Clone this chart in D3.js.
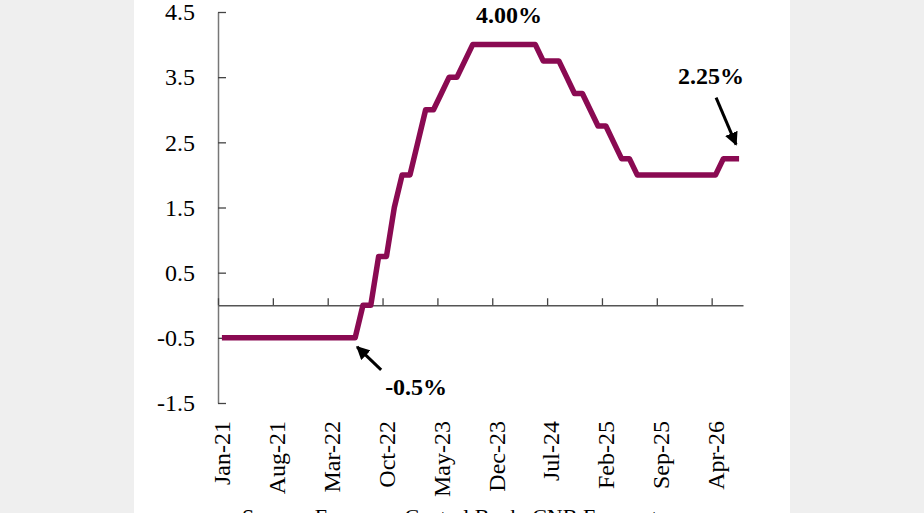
<!DOCTYPE html>
<html>
<head>
<meta charset="utf-8">
<script src="https://cdn.jsdelivr.net/npm/d3@7"></script>
<style>
  html, body { margin: 0; padding: 0; background: #efefef; overflow: hidden; }
  svg { display: block; }
  text { font-family: "Liberation Serif", "Times New Roman", serif; fill: #000; }
</style>
</head>
<body>
<script>
"use strict";

// monthly categories, Jan-21 .. Jul-26
const months = [
  "Jan-21","Feb-21","Mar-21","Apr-21","May-21","Jun-21","Jul-21","Aug-21","Sep-21","Oct-21","Nov-21","Dec-21",
  "Jan-22","Feb-22","Mar-22","Apr-22","May-22","Jun-22","Jul-22","Aug-22","Sep-22","Oct-22","Nov-22","Dec-22",
  "Jan-23","Feb-23","Mar-23","Apr-23","May-23","Jun-23","Jul-23","Aug-23","Sep-23","Oct-23","Nov-23","Dec-23",
  "Jan-24","Feb-24","Mar-24","Apr-24","May-24","Jun-24","Jul-24","Aug-24","Sep-24","Oct-24","Nov-24","Dec-24",
  "Jan-25","Feb-25","Mar-25","Apr-25","May-25","Jun-25","Jul-25","Aug-25","Sep-25","Oct-25","Nov-25","Dec-25",
  "Jan-26","Feb-26","Mar-26","Apr-26","May-26","Jun-26","Jul-26"
];

// rate in %
const rate = [
  -0.5, -0.5, -0.5, -0.5, -0.5, -0.5, -0.5, -0.5, -0.5, -0.5, -0.5, -0.5,
  -0.5, -0.5, -0.5, -0.5, -0.5, -0.5, 0, 0, 0.75, 0.75, 1.5, 2.0,
  2.0, 2.5, 3.0, 3.0, 3.25, 3.5, 3.5, 3.75, 4.0, 4.0, 4.0, 4.0,
  4.0, 4.0, 4.0, 4.0, 4.0, 3.75, 3.75, 3.75, 3.5, 3.25, 3.25, 3.0,
  2.75, 2.75, 2.5, 2.25, 2.25, 2.0, 2.0, 2.0, 2.0, 2.0, 2.0, 2.0,
  2.0, 2.0, 2.0, 2.0, 2.25, 2.25, 2.25
];

const yTicks = [-1.5, -0.5, 0.5, 1.5, 2.5, 3.5, 4.5];
const labelEvery = 7;
const sourceText = "Source: European Central Bank, CNB Forecast";

const w = 924;
const h = 513;

const svg = d3.select("body").append("svg").attr("width", w).attr("height", h);

// white chart panel
svg.append("rect").attr("x", 134).attr("y", 0).attr("width", 656).attr("height", h).attr("fill", "#fff");

const dataset = months.map((m, i) => ({ month: m, value: rate[i], idx: i }));

const xScale = d3.scaleBand().domain(months).range([218, 743]).padding(0);
const xIdx = d3.scaleLinear().domain([0, months.length]).range([218, 743]);
const cx = (m) => xScale(m) + xScale.bandwidth() / 2;

const yScale = d3.scaleLinear().domain([-1.5, 4.5]).range([403, 12]);

//y axis, ticks pointing inward, plain hyphen for negatives
const yAxis = d3.axisLeft(yScale)
  .tickValues(yTicks)
  .tickSize(-8)
  .tickSizeOuter(0)
  .tickPadding(23)
  .tickFormat((d) => d.toFixed(1));

svg.append("g")
  .attr("transform", "translate(218, 0)")
  .call(yAxis)
  .call((g) => g.select(".domain").attr("stroke", "#777").attr("stroke-width", 1.5))
  .call((g) => g.selectAll(".tick line").attr("stroke", "#444").attr("stroke-width", 1.3))
  .call((g) => g.selectAll(".tick text")
    .style("font-family", "Liberation Serif")
    .style("font-size", "24px")
    .attr("fill", "#000"));

//x axis on the zero line, ticks pointing up
const xAxis = d3.axisTop(xIdx)
  .tickValues(d3.range(0, months.length, labelEvery))
  .tickSize(7)
  .tickSizeOuter(0)
  .tickFormat("");

svg.append("g")
  .attr("transform", `translate(0, ${yScale(0)})`)
  .call(xAxis)
  .call((g) => g.select(".domain").attr("stroke", "#555").attr("stroke-width", 1.5))
  .call((g) => g.selectAll(".tick line").attr("stroke", "#444").attr("stroke-width", 1.3));

//month labels, rotated
svg.append("g")
  .selectAll("text")
  .data(dataset.filter((d) => d.idx % labelEvery === 0))
  .enter()
  .append("text")
  .attr("transform", (d) => `translate(${cx(d.month)}, 421) rotate(-90)`)
  .attr("text-anchor", "end")
  .attr("dy", "0.35em")
  .style("font-size", "24px")
  .text((d) => d.month);

//rate line
const line = d3.line()
  .x((d) => cx(d.month))
  .y((d) => yScale(d.value));

svg.append("path")
  .datum(dataset)
  .attr("d", line)
  .attr("fill", "none")
  .attr("stroke", "#8a0a52")
  .attr("stroke-width", 5.5)
  .attr("stroke-linejoin", "round");

//arrow head
svg.append("defs").append("marker")
  .attr("id", "head")
  .attr("viewBox", "0 0 10 10")
  .attr("refX", 9)
  .attr("refY", 5)
  .attr("markerWidth", 4.5)
  .attr("markerHeight", 4.5)
  .attr("orient", "auto")
  .append("path")
  .attr("d", "M0,0 L10,5 L0,10 z")
  .attr("fill", "#000");

const annotate = (d, label, tx, ty, arrow) => {
  const px = cx(d.month);
  const py = yScale(d.value);
  svg.append("text")
    .attr("x", px + tx)
    .attr("y", py + ty)
    .attr("text-anchor", "middle")
    .style("font-size", "24px")
    .style("font-weight", "bold")
    .text(label);
  if (arrow) {
    svg.append("line")
      .attr("x1", px + arrow[0]).attr("y1", py + arrow[1])
      .attr("x2", px + arrow[2]).attr("y2", py + arrow[3])
      .attr("stroke", "#000")
      .attr("stroke-width", 3)
      .attr("marker-end", "url(#head)");
  }
};

const last = dataset[dataset.length - 1];
const liftOff = dataset[17];
const peak = dataset[36];

annotate(peak, "4.00%", 5, -22, null);
annotate(last, "2.25%", -28, -75, [-23, -61, -3, -14]);
annotate(liftOff, "-0.5%", 61, 57, [26, 32, 2, 9]);

//source line, cut by the frame edge as in the original
svg.append("text")
  .attr("x", 242)
  .attr("y", 524)
  .style("font-size", "22px")
  .text(sourceText);
</script>
</body>
</html>
